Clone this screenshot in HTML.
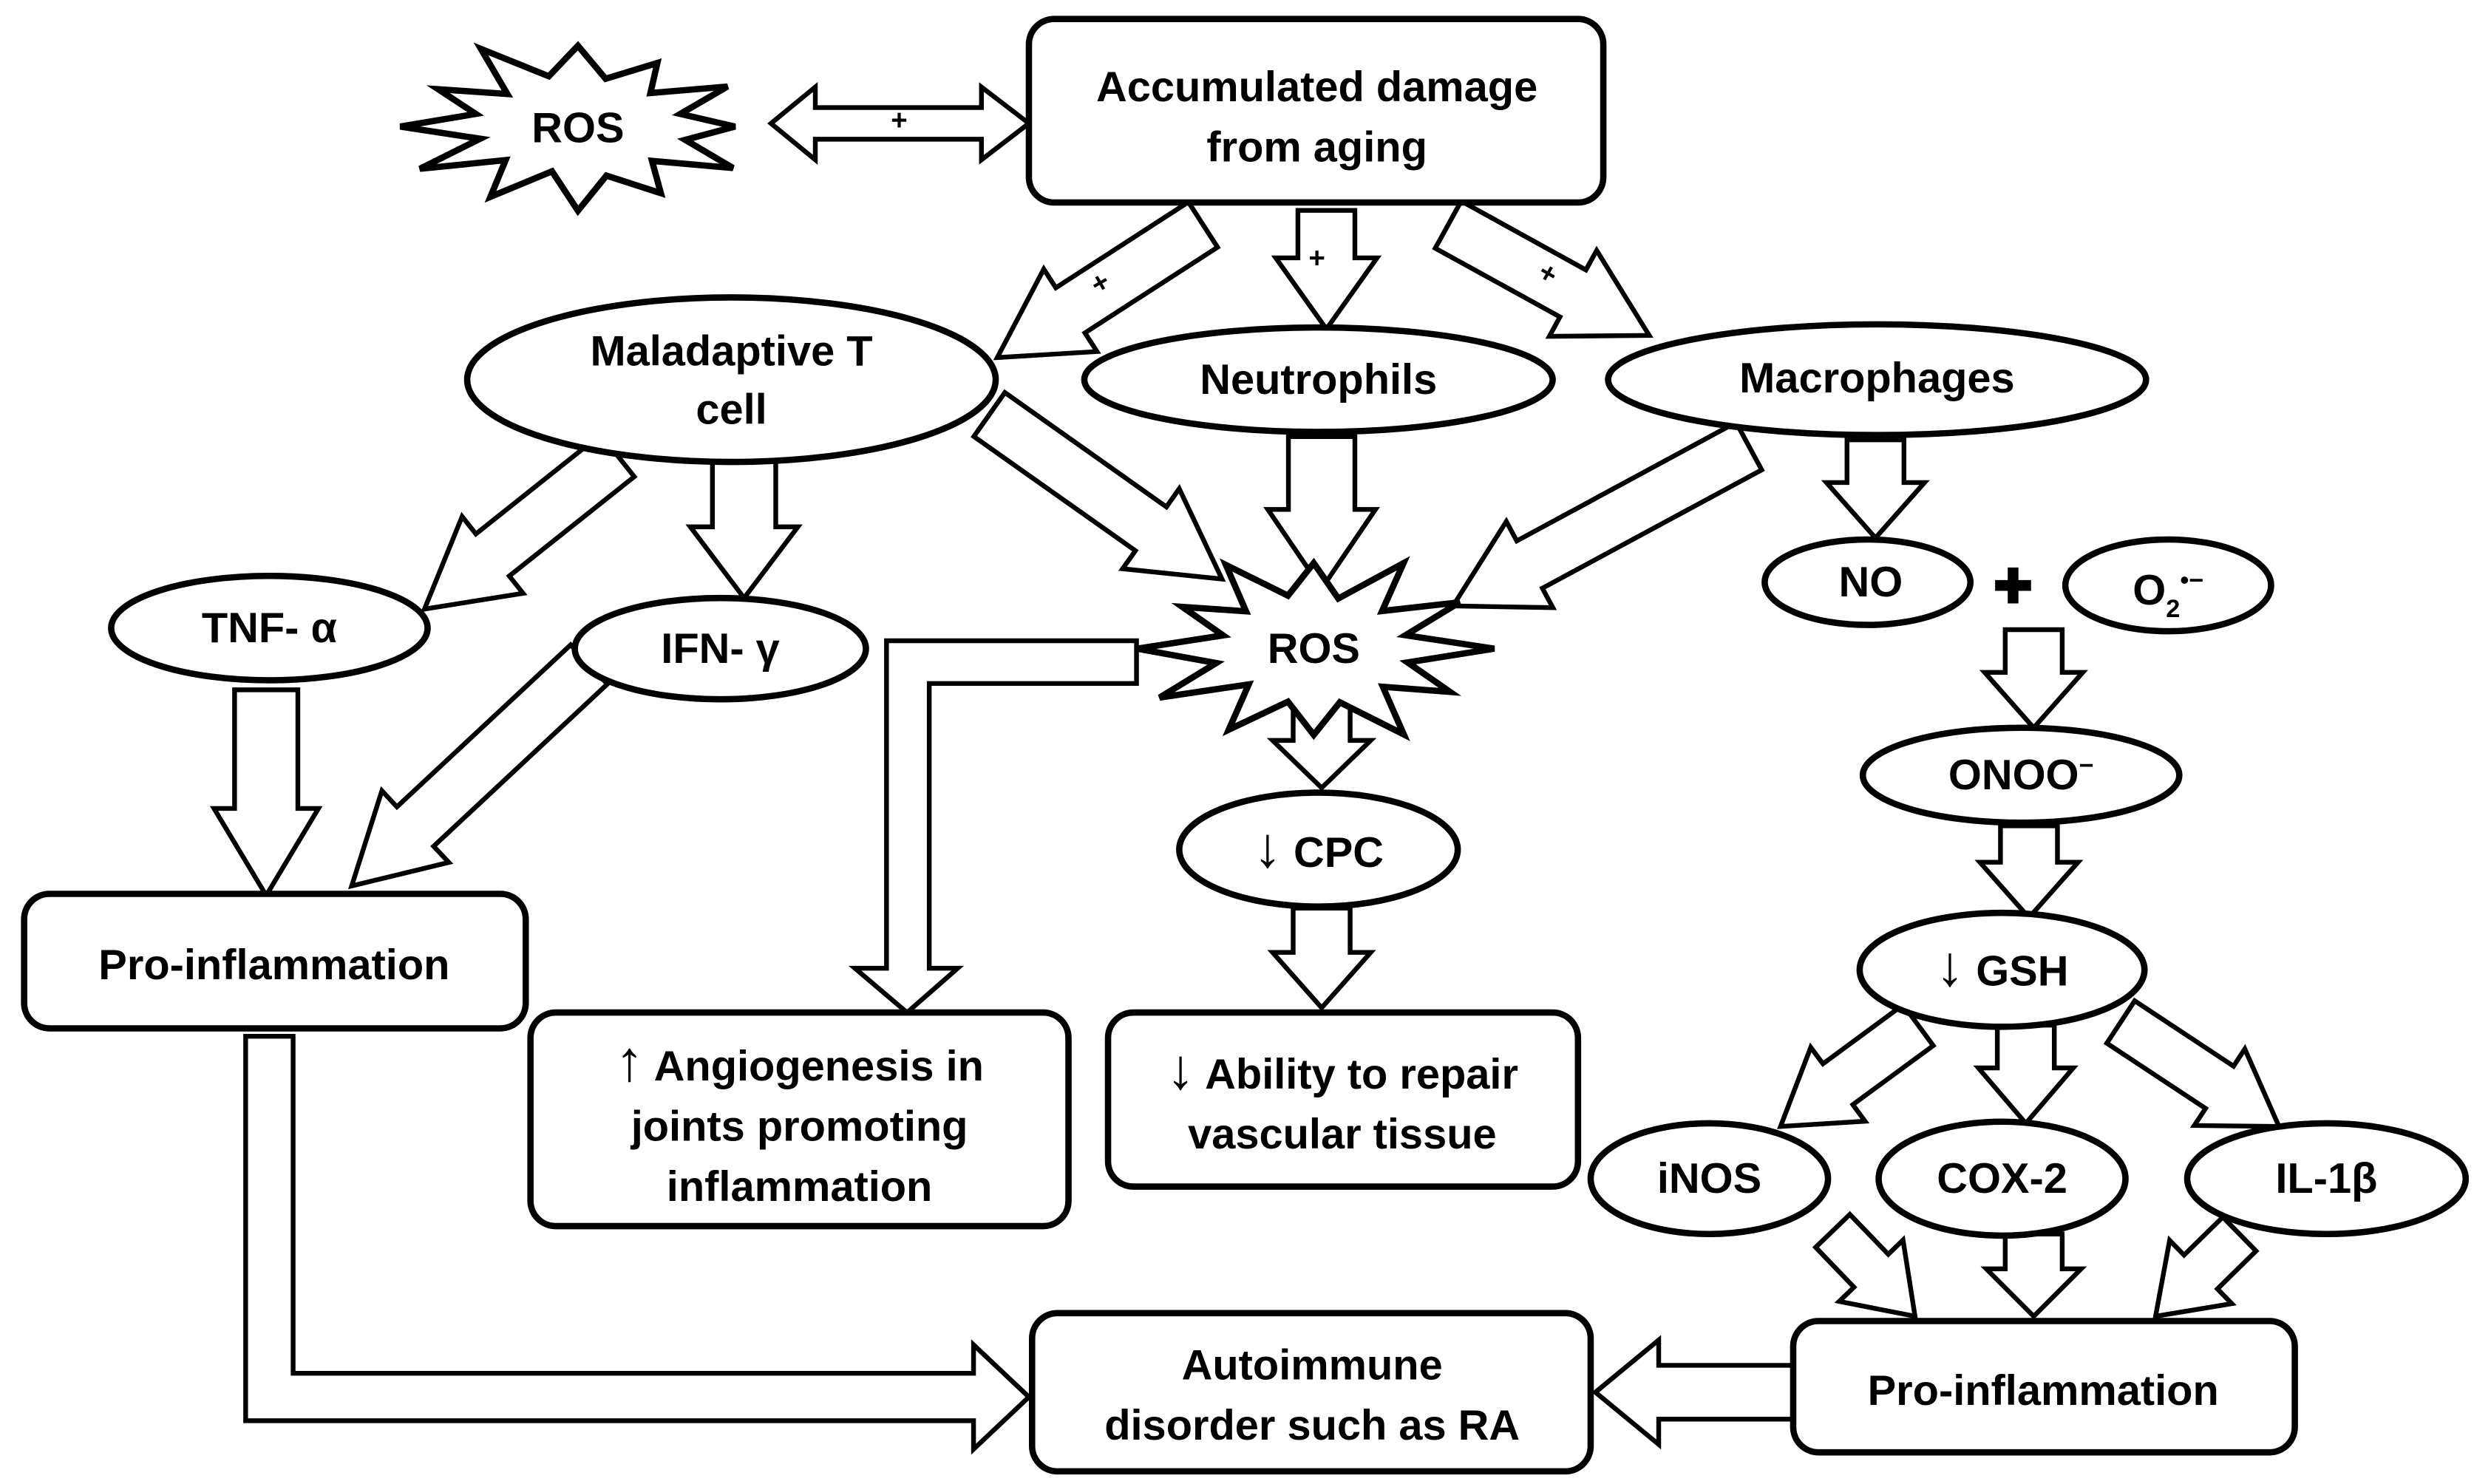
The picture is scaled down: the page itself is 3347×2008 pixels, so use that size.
<!DOCTYPE html>
<html><head><meta charset="utf-8">
<style>
html,body{margin:0;padding:0;background:#fff;}
svg{display:block;}
text{font-family:"Liberation Sans",Arial,sans-serif;font-weight:bold;fill:#000;}
</style></head>
<body>
<svg id="s" width="3347" height="2008" viewBox="0 0 1563 938" xmlns="http://www.w3.org/2000/svg">
<g id="arrows" fill="#fff" stroke="#000" stroke-width="3" stroke-linejoin="miter"></g>
<g id="shapes" fill="#fff" stroke="#000" stroke-width="4"></g>
<g id="labels" font-size="27" text-anchor="middle"></g>
</svg>
<script>
var NS="http://www.w3.org/2000/svg";
var A=document.getElementById('arrows'),S=document.getElementById('shapes'),L=document.getElementById('labels');
function el(p,t,a){var e=document.createElementNS(NS,t);for(var k in a)e.setAttribute(k,a[k]);p.appendChild(e);return e;}
function poly(p,pts){el(p,'polygon',{points:pts.map(function(q){return q[0].toFixed(1)+','+q[1].toFixed(1)}).join(' ')});}
function arrow(x1,y1,x2,y2,sw,hw,hl){
  var dx=x2-x1,dy=y2-y1,len=Math.hypot(dx,dy),ux=dx/len,uy=dy/len,nx=-uy,ny=ux;
  var bx=x2-ux*hl,by=y2-uy*hl;
  poly(A,[[x1+nx*sw/2,y1+ny*sw/2],[bx+nx*sw/2,by+ny*sw/2],[bx+nx*hw/2,by+ny*hw/2],[x2,y2],[bx-nx*hw/2,by-ny*hw/2],[bx-nx*sw/2,by-ny*sw/2],[x1-nx*sw/2,y1-ny*sw/2]]);
}
function star(cx,cy,rx,ry,n,seed){
  var pts=[],r=seed;
  function rnd(){r=(r*9301+49297)%233280;return r/233280;}
  for(var i=0;i<2*n;i++){
    var a=Math.PI*i/n-Math.PI/2;
    var f=i%2==0?(0.9+0.25*rnd()):(0.58+0.08*rnd());
    pts.push([cx+Math.cos(a)*rx*f,cy+Math.sin(a)*ry*f]);
  }
  poly(S,pts);
}
function text(x,y,s,sz){var t=el(L,'text',{x:x,y:y});if(sz)t.setAttribute('font-size',sz);t.innerHTML=s;return t;}
function rect(x,y,w,h){el(S,'rect',{x:x,y:y,width:w,height:h,rx:16,ry:16});}
function ell(cx,cy,rx,ry){el(S,'ellipse',{cx:cx,cy:cy,rx:rx,ry:ry});}

poly(A,[[487,78],[515,55],[515,68],[620,68],[620,55],[650,78],[620,101],[620,88],[515,88],[515,101]]);
arrow(760,142,630,226,34,62,55);
arrow(838,133,838,208,36,64,45);
arrow(915,142,1042,212,34,62,55);
arrow(390,288,268,385,34,62,55);
arrow(470,282,470,378,40,68,45);
arrow(625,262,772,366,34,62,55);
arrow(835,276,835,372,42,68,50);
arrow(1105,282,918,383,34,62,55);
arrow(1185,278,1185,340,36,62,35);
arrow(168,436,168,566,40,66,55);
arrow(372,420,222,560,34,62,55);
poly(A,[[718,405],[560,405],[560,612],[540,612],[573,640],[605,612],[587,612],[587,432],[718,432]]);
arrow(835,444,835,498,36,62,30);
arrow(835,574,835,637,36,62,35);
arrow(1285,398,1285,460,36,62,35);
arrow(1282,522,1282,580,36,62,35);
arrow(1212,648,1125,712,32,58,45);
arrow(1280,648,1280,710,36,60,35);
arrow(1340,646,1440,712,32,58,45);
arrow(1158,778,1210,832,30,56,40);
arrow(1285,780,1285,832,36,60,30);
arrow(1415,780,1362,832,30,56,40);
poly(A,[[155,655],[185,655],[185,868],[615,868],[615,850],[650,883],[615,916],[615,898],[155,898]]);
arrow(1133,880,1008,880,34,66,40);

star(365,80,108,50,12,7);
star(830,410,100,55,12,3);
rect(650,12,363,116);
ell(462,240,167,52);
ell(833,240,148,33);
ell(1186,240,170,35);
ell(170,397,100,33);
ell(455,410,92,32);
ell(1180,368,65,27);
ell(1370,370,65,29);
rect(15,565,317,85);
ell(833,537,88,36);
rect(335,640,340,135);
rect(700,640,297,110);
ell(1277,490,100,30);
ell(1265,613,90,36);
ell(1080,745,75,35);
ell(1265,745,78,36);
ell(1470,745,88,35);
rect(1133,835,317,83);
rect(652,830,353,100);

text(365,90,'ROS');
text(568,82,'+',18).setAttribute('font-weight','normal');
text(832,64,'Accumulated damage');
text(832,102,'from aging');
var p1=text(698,184,'+',18);p1.setAttribute('font-weight','normal');p1.setAttribute('transform','rotate(-30 698 184)');
text(832,169,'+',18).setAttribute('font-weight','normal');
var p2=text(975,178,'+',18);p2.setAttribute('font-weight','normal');p2.setAttribute('transform','rotate(30 975 178)');
text(462,231,'Maladaptive T');
text(462,268,'cell');
text(833,249,'Neutrophils');
text(1186,248,'Macrophages');
text(170,406,'TNF- α');
text(455,419,'IFN- γ');
text(1182,377,'NO');
text(1272,381,'✚',30);
text(1370,382,'O<tspan font-size="16" dy="8">2</tspan><tspan font-size="16" dy="-18">•−</tspan>');
text(830,419,'ROS');
text(173,619,'Pro-inflammation');
text(833,548,'<tspan font-size="36">↓</tspan> CPC');
text(505,683,'<tspan font-size="36">↑</tspan> Angiogenesis in');
text(505,721,'joints promoting');
text(505,759,'inflammation');
text(848,688,'<tspan font-size="36">↓</tspan> Ability to repair');
text(848,726,'vascular tissue');
text(1277,499,'ONOO<tspan font-size="16" dy="-10">−</tspan>');
text(1265,623,'<tspan font-size="36">↓</tspan> GSH');
text(1080,754,'iNOS');
text(1265,754,'COX-2');
text(1470,754,'IL-1β');
text(1291,888,'Pro-inflammation');
text(829,872,'Autoimmune');
text(829,910,'disorder such as RA');
</script>
</body></html>
